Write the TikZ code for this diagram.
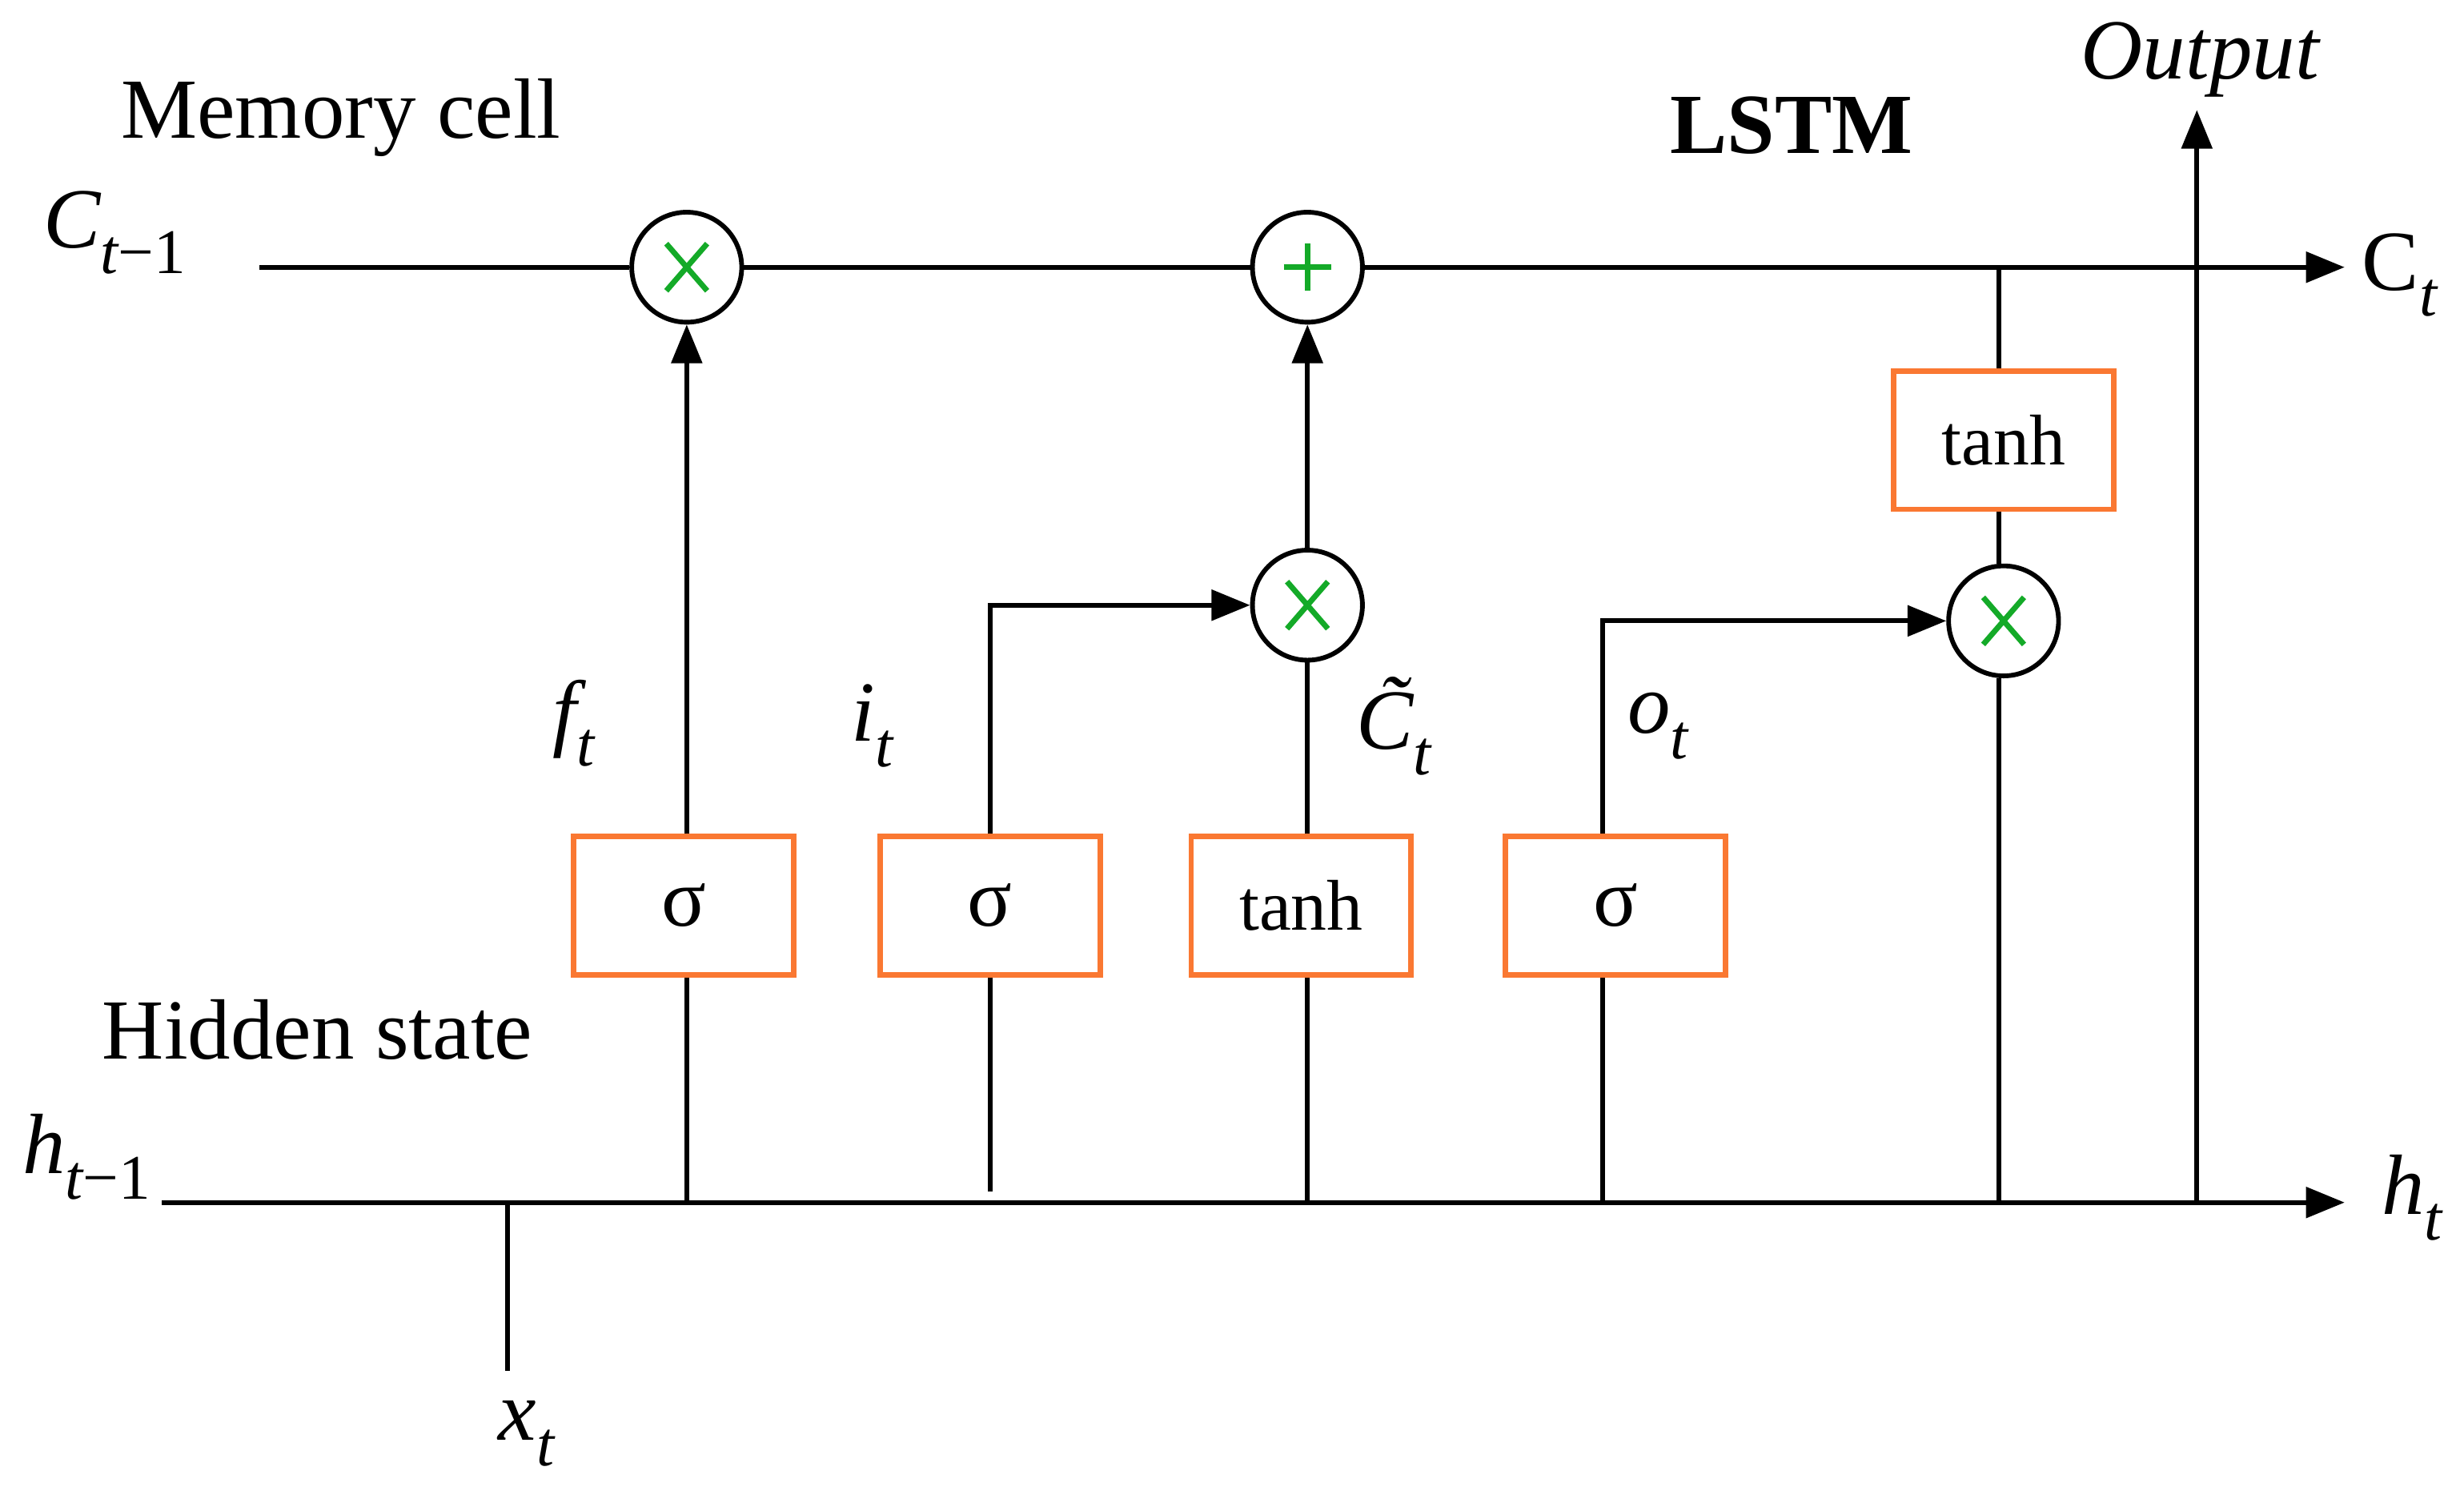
\documentclass[tikz,border=0pt]{standalone}
\usepackage{fontspec}
\setmainfont{Liberation Serif}
\usetikzlibrary{arrows.meta}
\definecolor{org}{RGB}{250,120,50}
\definecolor{grn}{RGB}{20,170,40}
\newcommand\isub[2]{#1\raisebox{-0.3em}{\fontsize{23}{27}\selectfont\itshape #2}}
\newcommand\mone{\raisebox{-0.3em}{\fontsize{23}{27}\selectfont\upshape −1}}
\begin{document}
\begin{tikzpicture}[x=0.02cm,y=-0.02cm,line width=1.7pt,
  every node/.style={font=\fontsize{30}{36}\selectfont},
  lab/.style={font=\fontsize{31}{36}\selectfont},
  box/.style={draw=org,line width=2pt,minimum width=2.8cm,minimum height=1.76cm,inner sep=0pt},
  tb/.style={box,font=\fontsize{26}{30}\selectfont},
  op/.style={draw,circle,minimum size=1.4cm,inner sep=0pt},
  arr/.style={-{Triangle[length=14pt,width=11pt]}}]
\useasboundingbox (0,0) rectangle (1568,956);
% nodes
\node[op] (f) at (437,170) {};
\node[op] (p) at (832,170) {};
\node[op] (m1) at (832,385) {};
\node[op] (m2) at (1275,395) {};
\foreach \n in {f,m1,m2}{\draw[grn,line width=2pt] (\n)+(-13,-15)--+(13,15) (\n)+(-13,15)--+(13,-15);}
\draw[grn,line width=2pt] (p)+(-15,0)--+(15,0) (p)+(0,-15)--+(0,15);
\node[box] (b1) at (435,576) {σ};
\node[box] (b2) at (630,576) {σ};
\node[tb] (b3) at (828,576) {tanh};
\node[box] (b4) at (1028,576) {σ};
\node[tb] (b5) at (1275,280) {tanh};
% coordinates
\coordinate (cs) at (165,170); \coordinate (ce) at (1492,170);
\coordinate (hs) at (103,765); \coordinate (he) at (1492,765);
\coordinate (xb) at (323,872); \coordinate (xt) at (323,765);
\coordinate (fh) at (437,765); \coordinate (ih) at (630,758);
\coordinate (th) at (832,765); \coordinate (oh) at (1020,765);
\coordinate (mh) at (1272,765); \coordinate (mc) at (1272,170);
\coordinate (outb) at (1398,765); \coordinate (outt) at (1398,70);
% lines
\draw[arr] (cs) -- (f) -- (p) -- (ce);
\draw[arr] (hs) -- (he);
\draw (xb) -- (xt);
\draw (fh) -- (b1.south-|fh); \draw[arr] (b1.north-|fh) -- (f);
\draw (ih) -- (b2.south-|ih); \draw[arr] (b2.north-|ih) |- (m1);
\draw (th) -- (b3.south-|th); \draw (b3.north-|th) -- (m1); \draw[arr] (m1) -- (p);
\draw (oh) -- (b4.south-|oh); \draw[arr] (b4.north-|oh) |- (m2);
\draw (mh) -- (m2.south-|mh); \draw (m2.north-|mh) -- (b5.south-|mh); \draw (b5.north-|mh) -- (mc);
\draw[arr] (outb) -- (outt);
% labels
\node[lab] at (73,148) {\isub{\itshape C}{t}\mone};
\node[lab] at (1527,175) {\isub{C}{t}};
\node[lab] at (55,736) {\isub{\itshape h}{t}\mone};
\node[lab] at (1535,762) {\isub{\itshape h}{t}};
\node[lab] at (335,912) {\isub{\itshape x}{t}};
\node[lab] at (365,460) {\isub{\itshape f}{t}};
\node[lab] at (555,462) {\isub{\itshape i}{t}};
\node[lab] at (887,462) {\isub{\itshape\~{C}}{t}};
\node[lab] at (1055,462) {\isub{\itshape o}{t}};
\node[lab] at (1400,38) {\itshape Output};
\node[lab] at (1140,80) {\bfseries LSTM};
\node[lab] at (217,75) {Memory cell};
\node[lab] at (202,655) {Hidden state};
\end{tikzpicture}
\end{document}
